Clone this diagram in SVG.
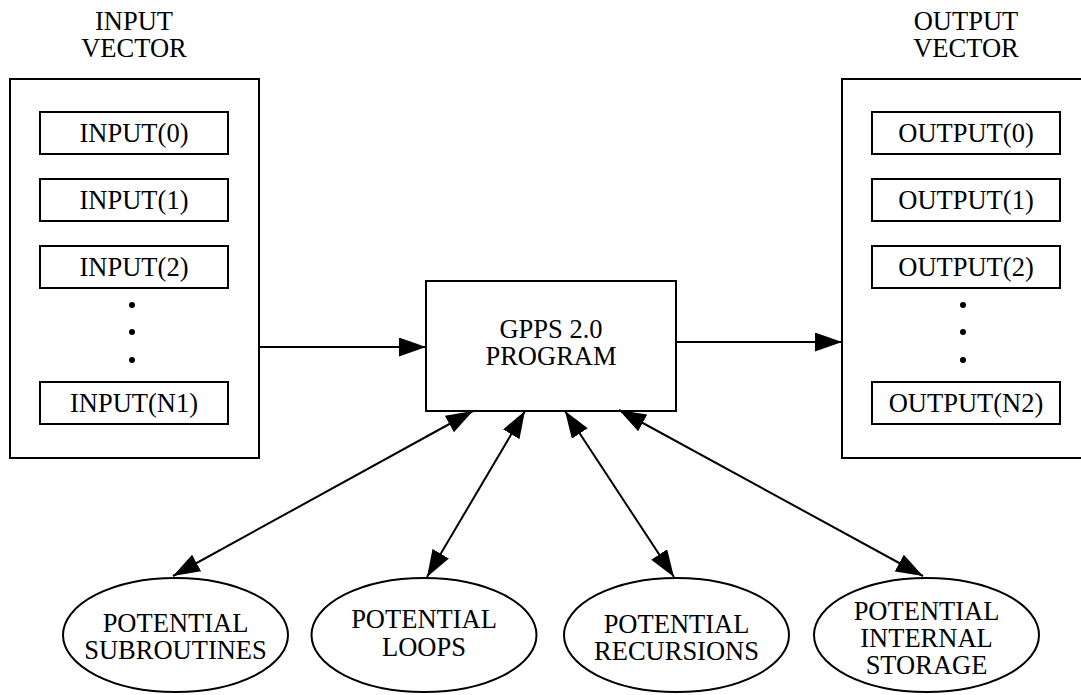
<svg xmlns="http://www.w3.org/2000/svg" width="1081" height="695" viewBox="0 0 1081 695">
<style>
.b{fill:#fff;stroke:#000;stroke-width:2}
text{font-family:'Liberation Serif','Times New Roman','DejaVu Serif',serif;font-size:26.5px;fill:#000;text-anchor:middle}
.c{stroke:#000;stroke-width:2;fill:none}
</style>
<defs>
<marker id="ah" markerUnits="userSpaceOnUse" markerWidth="28" markerHeight="20" refX="27" refY="9.5" orient="auto-start-reverse">
<path d="M0,0 L27,9.5 L0,19 Z" fill="#000"/>
</marker>
</defs>
<rect width="1081" height="695" fill="#fff"/>
<g id="input-vector" font-family="Liberation Serif, serif">
<text x="134" y="30">INPUT</text>
<text x="134" y="57">VECTOR</text>
<rect class="b" x="10" y="79" width="249" height="379"/>
<g id="input0"><rect class="b" x="40" y="112" width="188" height="42"/><text x="134" y="142">INPUT(0)</text></g>
<g id="input1"><rect class="b" x="40" y="179" width="188" height="42"/><text x="134" y="209">INPUT(1)</text></g>
<g id="input2"><rect class="b" x="40" y="246" width="188" height="42"/><text x="134" y="276">INPUT(2)</text></g>
<circle cx="132" cy="305" r="3"/><circle cx="132" cy="332" r="3"/><circle cx="132" cy="360" r="3"/>
<g id="inputN1"><rect class="b" x="40" y="382" width="188" height="42"/><text x="134" y="412">INPUT(N1)</text></g>
</g>
<g id="output-vector">
<text x="966" y="30">OUTPUT</text>
<text x="966" y="57">VECTOR</text>
<rect class="b" x="842" y="79" width="249" height="379"/>
<g id="output0"><rect class="b" x="872" y="112" width="188" height="42"/><text x="966" y="142">OUTPUT(0)</text></g>
<g id="output1"><rect class="b" x="872" y="179" width="188" height="42"/><text x="966" y="209">OUTPUT(1)</text></g>
<g id="output2"><rect class="b" x="872" y="246" width="188" height="42"/><text x="966" y="276">OUTPUT(2)</text></g>
<circle cx="963" cy="305" r="3"/><circle cx="963" cy="332" r="3"/><circle cx="963" cy="360" r="3"/>
<g id="outputN2"><rect class="b" x="872" y="382" width="188" height="42"/><text x="966" y="412">OUTPUT(N2)</text></g>
</g>
<g id="program">
<rect class="b" x="426" y="281" width="250" height="130"/>
<text x="551" y="338">GPPS 2.0</text>
<text x="551" y="365">PROGRAM</text>
</g>
<g id="subroutines">
<ellipse class="b" cx="175.5" cy="635" rx="112.5" ry="57"/>
<text x="175.5" y="632">POTENTIAL</text>
<text x="175.5" y="659">SUBROUTINES</text>
</g>
<g id="loops">
<ellipse class="b" cx="424" cy="635" rx="112.5" ry="57"/>
<text x="424" y="628">POTENTIAL</text>
<text x="424" y="656">LOOPS</text>
</g>
<g id="recursions">
<ellipse class="b" cx="676.5" cy="635" rx="112.5" ry="57"/>
<text x="676.5" y="633">POTENTIAL</text>
<text x="676.5" y="660">RECURSIONS</text>
</g>
<g id="storage">
<ellipse class="b" cx="926.5" cy="635" rx="112.5" ry="57"/>
<text x="926.5" y="620">POTENTIAL</text>
<text x="926.5" y="647">INTERNAL</text>
<text x="926.5" y="674">STORAGE</text>
</g>
<g id="connectors">
<line class="c" x1="259" y1="347" x2="426" y2="347" marker-end="url(#ah)"/>
<line class="c" x1="676" y1="342" x2="842" y2="342" marker-end="url(#ah)"/>
<line class="c" x1="473" y1="411" x2="173" y2="576" marker-start="url(#ah)" marker-end="url(#ah)"/>
<line class="c" x1="525" y1="411" x2="427" y2="577" marker-start="url(#ah)" marker-end="url(#ah)"/>
<line class="c" x1="565" y1="411" x2="674" y2="577" marker-start="url(#ah)" marker-end="url(#ah)"/>
<line class="c" x1="619" y1="410" x2="923" y2="576" marker-start="url(#ah)" marker-end="url(#ah)"/>
</g>
</svg>
